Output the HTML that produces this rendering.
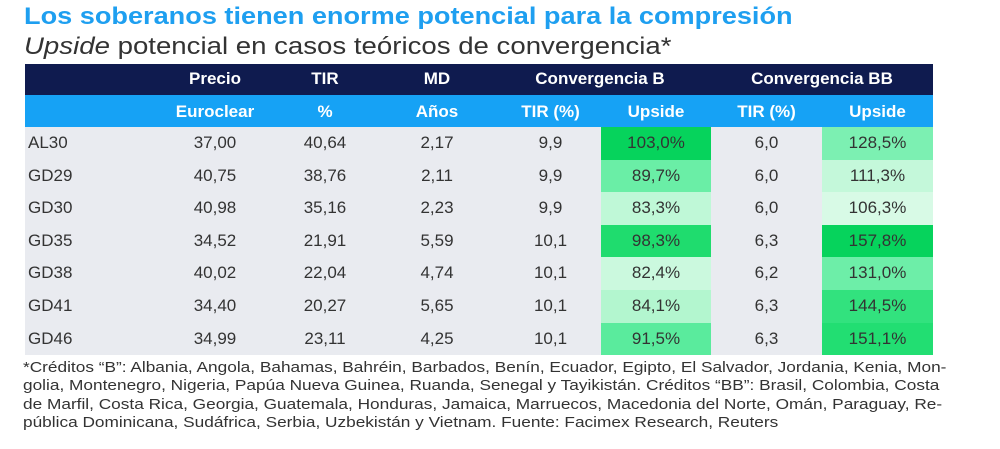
<!DOCTYPE html>
<html><head><meta charset="utf-8"><style>
body{margin:0;width:1000px;height:449px;background:#fff;font-family:"Liberation Sans",sans-serif;position:relative;overflow:hidden}
.a{position:absolute;white-space:nowrap;transform-origin:0 0}
.t{left:24px;top:3px;font-size:24px;font-weight:bold;color:#1e9ff0;transform:scaleX(1.13)}
.s{left:24px;top:33px;font-size:24px;color:#333;transform:scaleX(1.15)}
.c{position:absolute;text-align:center;font-size:17px;line-height:32.6px;color:#333}
.h{color:#fff;font-weight:bold;font-size:17px}
.f{left:23px;font-size:15px;color:#333;transform:scaleX(1.15)}
</style></head><body>
<div class="a t">Los soberanos tienen enorme potencial para la compresión</div>
<div class="a s"><i>Upside</i> potencial en casos teóricos de convergencia*</div>
<div class="a" style="left:25px;top:64px;width:908px;height:31px;background:#0f1b4f"></div>
<div class="a" style="left:25px;top:95px;width:908px;height:32px;background:#16a2f5"></div>
<div class="a" style="left:25px;top:127px;width:908px;height:228px;background:#e9ebf0"></div>
<div id="g"></div>
<div class="a f" style="top:359px">*Créditos “B”: Albania, Angola, Bahamas, Bahréin, Barbados, Benín, Ecuador, Egipto, El Salvador, Jordania, Kenia, Mon-</div>
<div class="a f" style="top:377px">golia, Montenegro, Nigeria, Papúa Nueva Guinea, Ruanda, Senegal y Tayikistán. Créditos “BB”: Brasil, Colombia, Costa</div>
<div class="a f" style="top:396px">de Marfil, Costa Rica, Georgia, Guatemala, Honduras, Jamaica, Marruecos, Macedonia del Norte, Omán, Paraguay, Re-</div>
<div class="a f" style="top:414px">pública Dominicana, Sudáfrica, Serbia, Uzbekistán y Vietnam. Fuente: Facimex Research, Reuters</div>
<script>
var g=document.getElementById('g'),h='';
function c(x,y,w,t,cls,bg){h+='<div class="c '+(cls||'')+'" style="left:'+x+'px;top:'+y+'px;width:'+w+'px;'+(bg?'background:'+bg+';':'')+'">'+t+'</div>';}
c(160,63,110,'Precio','h');c(270,63,110,'TIR','h');c(382,63,110,'MD','h');c(490,63,220,'Convergencia B','h');c(711,63,222,'Convergencia BB','h');
c(160,96,110,'Euroclear','h');c(270,96,110,'%','h');c(382,96,110,'Años','h');c(500,96,101,'TIR (%)','h');c(601,96,110,'Upside','h');c(711,96,111,'TIR (%)','h');c(822,96,111,'Upside','h');
var R=[['AL30','37,00','40,64','2,17','9,9','103,0%','#06d35c','6,0','128,5%','#7cf0b2'],
['GD29','40,75','38,76','2,11','9,9','89,7%','#6aeea6','6,0','111,3%','#c4f8da'],
['GD30','40,98','35,16','2,23','9,9','83,3%','#bff8d7','6,0','106,3%','#d8fae6'],
['GD35','34,52','21,91','5,59','10,1','98,3%','#1fdc6e','6,3','157,8%','#06d35c'],
['GD38','40,02','22,04','4,74','10,1','82,4%','#cbf9de','6,2','131,0%','#6deea8'],
['GD41','34,40','20,27','5,65','10,1','84,1%','#b3f6cf','6,3','144,5%','#32e27e'],
['GD46','34,99','23,11','4,25','10,1','91,5%','#5aeb9d','6,3','151,1%','#22de72']];
R.forEach(function(r,i){var y=127+i*32.6;
h+='<div class="c" style="left:28px;top:'+y+'px;text-align:left">'+r[0]+'</div>';
c(160,y,110,r[1]);c(270,y,110,r[2]);c(382,y,110,r[3]);c(500,y,101,r[4]);c(601,y,110,r[5],'',r[6]);c(711,y,111,r[7]);c(822,y,111,r[8],'',r[9]);});
g.innerHTML=h;
</script>
</body></html>
